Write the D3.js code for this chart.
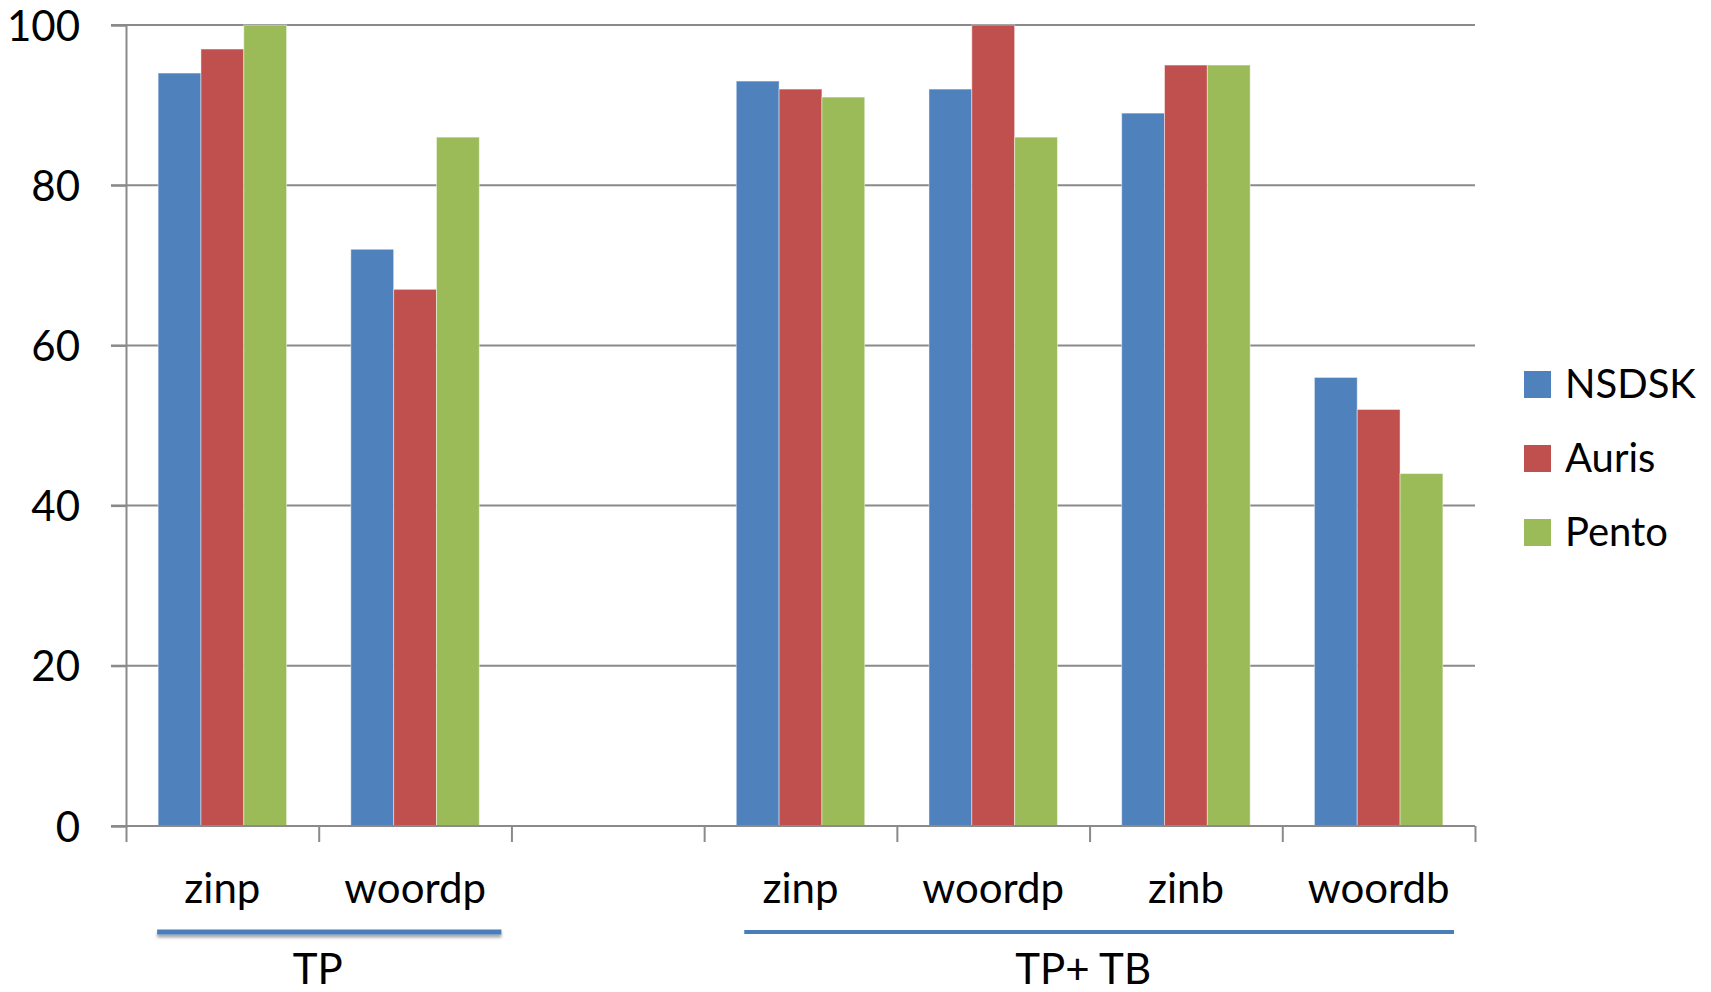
<!DOCTYPE html>
<html>
<head>
<meta charset="utf-8">
<script src="https://d3js.org/d3.v7.min.js"></script>
<style>
  html, body { margin: 0; padding: 0; background: #fff; }
  text { font-family: Lato, "Open Sans", sans-serif; fill: #000; }
</style>
</head>
<body>
<div id="chart"></div>
<script>
// categories along the x axis (index 2 is the empty slot between the two groups)
const categories = ["zinp", "woordp", "", "zinp", "woordp", "zinb", "woordb"];
const seriesNames = ["NSDSK", "Auris", "Pento"];
const seriesColors = ["#4f81bd", "#c0504d", "#9bbb59"];
const nsdsk = [94, 72, null, 93, 92, 89, 56];
const auris = [97, 67, null, 92, 100, 95, 52];
const pento = [100, 86, null, 91, 86, 95, 44];
const yTicks = [0, 20, 40, 60, 80, 100];
// groups drawn under the category labels
const groupLabels = ["TP", "TP+ TB"];
const groupFirst = [0, 3];
const groupLast = [1, 6];

const values = [nsdsk, auris, pento];

const width = 1711, height = 992;
const plotLeft = 126, plotRight = 1475, plotTop = 25, plotBottom = 826;

let svg = d3.select("#chart")
    .append("svg")
    .attr("width", width)
    .attr("height", height);

let defs = svg.append("defs");
let shadow = defs.append("filter")
    .attr("id", "lineShadow")
    .attr("filterUnits", "userSpaceOnUse")
    .attr("x", 0).attr("y", 900)
    .attr("width", width).attr("height", 60);
shadow.append("feDropShadow")
    .attr("dx", 0).attr("dy", 3)
    .attr("stdDeviation", 1.5)
    .attr("flood-color", "#000")
    .attr("flood-opacity", 0.35);

let x = d3.scaleBand()
    .domain(d3.range(categories.length))
    .range([plotLeft, plotRight])
    .paddingInner(0)
    .paddingOuter(0);

let xs = d3.scaleBand()
    .domain(seriesNames)
    .range([0, x.bandwidth()])
    .paddingInner(0)
    .paddingOuter(0.75);

let y = d3.scaleLinear()
    .domain([0, 100])
    .range([plotBottom, plotTop]);

// gridlines
svg.append("g")
    .selectAll("line")
    .data(yTicks)
    .enter().append("line")
    .attr("x1", plotLeft - 15)
    .attr("x2", plotRight)
    .attr("y1", d => y(d))
    .attr("y2", d => y(d))
    .attr("stroke", "#8a8a8a")
    .attr("stroke-width", 2);

// bars
let barGroup = svg.append("g");
categories.forEach((cat, i) => {
    seriesNames.forEach((name, s) => {
        let v = values[s][i];
        if (v == null) return;
        barGroup.append("rect")
            .attr("x", x(i) + xs(name))
            .attr("width", xs.bandwidth())
            .attr("y", y(v))
            .attr("height", y(0) - y(v))
            .attr("fill", seriesColors[s])
            .attr("stroke", "rgba(255,255,255,0.45)")
            .attr("stroke-width", 1);
    });
});

// y axis
let yAxis = svg.append("g")
    .attr("transform", "translate(" + plotLeft + ",0)")
    .call(d3.axisLeft(y).tickValues(yTicks).tickSize(15).tickPadding(31));
yAxis.select(".domain").attr("stroke", "#8a8a8a").attr("stroke-width", 2);
yAxis.selectAll(".tick line").attr("stroke", "#8a8a8a").attr("stroke-width", 2);
yAxis.selectAll(".tick text")
    .style("font-family", "Lato, 'Open Sans', sans-serif")
    .style("font-size", "42px")
    .attr("fill", "#000")
    .attr("dy", "0.36em");

// x axis: ticks at category boundaries
let xb = d3.scaleLinear()
    .domain([0, categories.length])
    .range([plotLeft, plotRight]);
let xAxis = svg.append("g")
    .attr("transform", "translate(0," + plotBottom + ")")
    .call(d3.axisBottom(xb).tickValues(d3.range(categories.length + 1)).tickSize(16).tickFormat(""));
xAxis.select(".domain").attr("stroke", "#8a8a8a").attr("stroke-width", 2)
    .attr("d", "M" + plotLeft + ",0H" + plotRight);
xAxis.selectAll(".tick line").attr("stroke", "#8a8a8a").attr("stroke-width", 2);

// category labels
svg.append("g")
    .selectAll("text")
    .data(categories)
    .enter().append("text")
    .attr("x", (d, i) => x(i) + x.bandwidth() / 2)
    .attr("y", 903)
    .attr("text-anchor", "middle")
    .style("font-size", "42px")
    .text(d => d);

// group underlines and labels
groupLabels.forEach((label, g) => {
    let x1 = x(groupFirst[g]) + xs(seriesNames[0]) - (g === 0 ? 1 : -8);
    let x2 = x(groupLast[g]) + x.bandwidth() - (g === 0 ? 10 : 21);
    let thick = g === 0 ? 5 : 4;
    svg.append("rect")
        .attr("x", x1)
        .attr("width", x2 - x1)
        .attr("y", 932 - thick / 2)
        .attr("height", thick)
        .attr("fill", "#4a7ebb")
        .attr("filter", g === 0 ? "url(#lineShadow)" : null);
    let cx = g === 0 ? (x(groupFirst[g]) + x(groupLast[g]) + x.bandwidth()) / 2 - 1
                     : (x1 + x2) / 2 - 16;
    svg.append("text")
        .attr("x", cx)
        .attr("y", 984)
        .attr("text-anchor", "middle")
        .style("font-size", "42px")
        .text(label);
});

// legend
let legend = svg.append("g")
    .attr("transform", "translate(1524,371)");
let item = legend.selectAll("g")
    .data(seriesNames)
    .enter().append("g")
    .attr("transform", (d, i) => "translate(0," + i * 74 + ")");
item.append("rect")
    .attr("width", 27)
    .attr("height", 27)
    .attr("fill", (d, i) => seriesColors[i]);
item.append("text")
    .attr("x", 41)
    .attr("y", 27)
    .style("font-size", "40px")
    .text(d => d);
</script>
</body>
</html>
